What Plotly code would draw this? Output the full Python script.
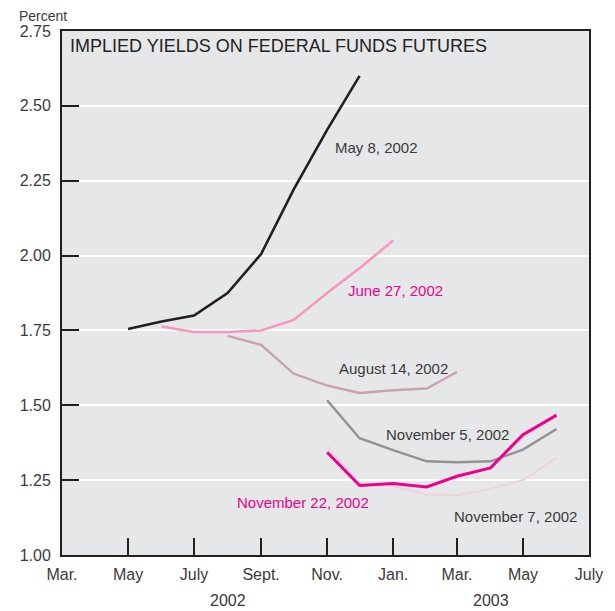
import plotly.graph_objects as go

# ---- data ----
may8_x = ["2002-05-01", "2002-06-01", "2002-07-01", "2002-08-01", "2002-09-01",
          "2002-10-01", "2002-11-01", "2002-12-01"]
may8_y = [1.755, 1.78, 1.80, 1.875, 2.005, 2.22, 2.42, 2.60]

jun27_x = ["2002-06-01", "2002-07-01", "2002-08-01", "2002-09-01", "2002-10-01",
           "2002-11-01", "2002-12-01", "2003-01-01"]
jun27_y = [1.763, 1.745, 1.745, 1.75, 1.785, 1.875, 1.958, 2.05]

aug14_x = ["2002-08-01", "2002-09-01", "2002-10-01", "2002-11-01", "2002-12-01",
           "2003-01-01", "2003-02-01", "2003-03-01"]
aug14_y = [1.732, 1.702, 1.606, 1.566, 1.541, 1.55, 1.556, 1.611]

late_x = ["2002-11-01", "2002-12-01", "2003-01-01", "2003-02-01", "2003-03-01",
          "2003-04-01", "2003-05-01", "2003-06-01"]
nov5_y = [1.517, 1.39, 1.35, 1.313, 1.31, 1.313, 1.352, 1.421]
nov7_y = [1.363, 1.236, 1.23, 1.202, 1.20, 1.221, 1.25, 1.325]
nov22_y = [1.343, 1.232, 1.239, 1.227, 1.263, 1.291, 1.402, 1.467]

tick_dates = ["2002-03-01", "2002-05-01", "2002-07-01", "2002-09-01", "2002-11-01",
              "2003-01-01", "2003-03-01", "2003-05-01", "2003-07-01"]
tick_text = ["Mar.", "May", "July", "Sept.", "Nov.", "Jan.", "Mar.", "May", "July"]
y_ticks = [1.00, 1.25, 1.50, 1.75, 2.00, 2.25, 2.50, 2.75]

# ---- figure ----
FONT = "Liberation Sans, Arial, sans-serif"
TXT = "#3a3a3a"
MAG = "#ec008c"

fig = go.Figure()
series = [
    (may8_x, may8_y, "#231f20", 2.6),
    (jun27_x, jun27_y, "#f597bf", 2.6),
    (aug14_x, aug14_y, "#c9a0b4", 2.4),
    (late_x, nov5_y, "#939393", 2.4),
    (late_x, nov7_y, "#edd5de", 2.4),
    (late_x, nov22_y, MAG, 3.0),
]
for xs, ys, col, w in series:
    fig.add_trace(go.Scatter(x=xs, y=ys, mode="lines",
                             line=dict(color=col, width=w),
                             showlegend=False, hoverinfo="skip"))

labels = [
    ("2002-12-17", 2.362, "May 8, 2002", TXT),
    ("2003-01-03", 1.882, "June 27, 2002", MAG),
    ("2003-01-01", 1.622, "August 14, 2002", TXT),
    ("2003-02-20", 1.402, "November 5, 2002", TXT),
    ("2002-10-10", 1.176, "November 22, 2002", MAG),
    ("2003-04-24", 1.129, "November 7, 2002", TXT),
]
for x, y, t, c in labels:
    fig.add_annotation(x=x, y=y, xref="x", yref="y", text=t, showarrow=False,
                       font=dict(family=FONT, size=15, color=c))

fig.add_annotation(x=0.012, y=0.971, xref="paper", yref="paper",
                   xanchor="left", yanchor="middle", showarrow=False,
                   text="IMPLIED YIELDS ON FEDERAL FUNDS FUTURES",
                   font=dict(family=FONT, size=18, color="#222"))
fig.add_annotation(x=-0.0853, y=1.0286, xref="paper", yref="paper",
                   xanchor="left", yanchor="middle", showarrow=False,
                   text="Percent", font=dict(family=FONT, size=14, color=TXT))
for x, t in [("2002-08-01", "2002"), ("2003-04-01", "2003")]:
    fig.add_annotation(x=x, y=-0.0859, xref="x", yref="paper", showarrow=False,
                       yanchor="middle", text=t,
                       font=dict(family=FONT, size=16, color=TXT))

fig.update_layout(
    width=607, height=603,
    margin=dict(l=48, r=22, t=23, b=56),
    paper_bgcolor="white",
    plot_bgcolor="#e6e7e9",
    font=dict(family=FONT, size=16, color=TXT),
)
fig.update_xaxes(
    type="date", range=["2002-03-01", "2003-07-01"],
    tickvals=tick_dates, ticktext=tick_text,
    showgrid=False, zeroline=False,
    ticks="inside", ticklen=17, tickwidth=2, tickcolor="#231f20",
    showline=True, linecolor="#231f20", linewidth=2, mirror=True,
    ticklabelstandoff=4,
    tickfont=dict(family=FONT, size=16, color=TXT),
)
fig.update_yaxes(
    range=[1.0, 2.75], tickvals=y_ticks, tickformat=".2f",
    showgrid=True, gridcolor="white", gridwidth=2, zeroline=False,
    ticks="inside", ticklen=17, tickwidth=2, tickcolor="#231f20",
    showline=True, linecolor="#231f20", linewidth=2, mirror=True,
    ticklabelstandoff=6,
    tickfont=dict(family=FONT, size=16, color=TXT),
)

fig.write_html("out.html")
